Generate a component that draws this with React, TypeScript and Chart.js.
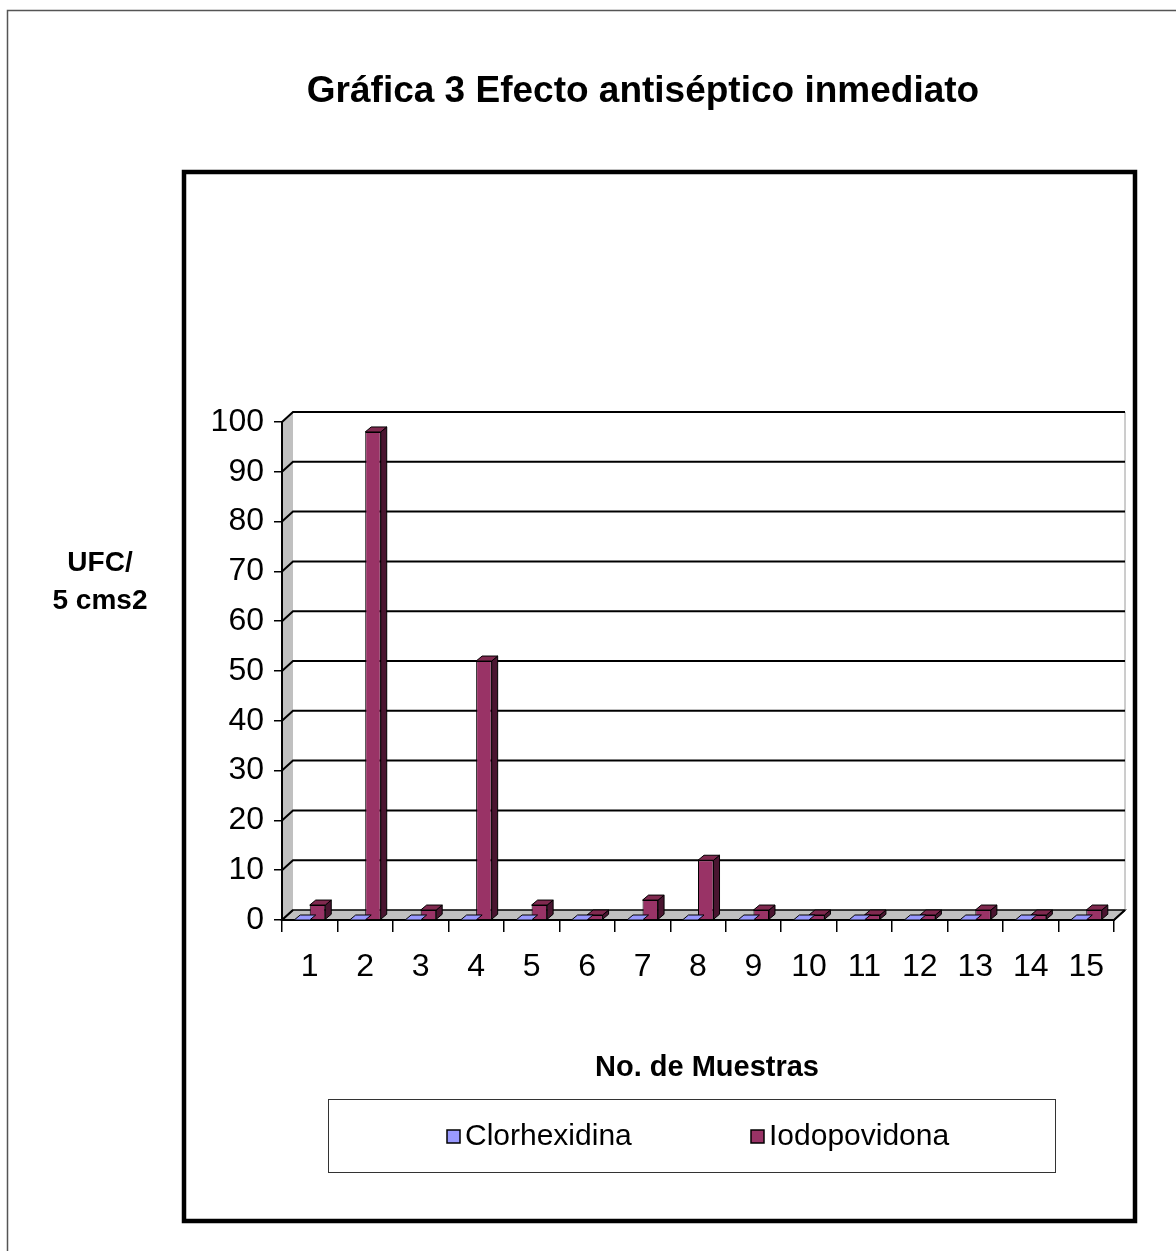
import React, { useEffect, useRef } from "react";
import { Chart, registerables } from "chart.js";

Chart.register(...registerables);

const categories = ["1", "2", "3", "4", "5", "6", "7", "8", "9", "10", "11", "12", "13", "14", "15"];
const clorhexidina = [0, 0, 0, 0, 0, 0, 0, 0, 0, 0, 0, 0, 0, 0, 0];
const iodopovidona = [3, 98, 2, 52, 3, 1, 4, 12, 2, 1, 1, 1, 2, 1, 2];
const seriesNames = ["Clorhexidina", "Iodopovidona"];
const titleText = "Gráfica 3 Efecto antiséptico inmediato";
const yTitleLines = ["UFC/", "5 cms2"];
const xTitleText = "No. de Muestras";

const FONT = '"Liberation Sans", Arial, sans-serif';
const DX = 11;
const DY = -10;
const BDX = 6;
const BDY = -5;

const frontColors = ["#9999ff", "#993366"];
const sideColors = ["#5c5cb0", "#4a1530"];
const topColors = ["#7b7bd6", "#80294f"];

const decorPlugin = {
  id: "decor",
  beforeDraw(chart: any) {
    const ctx = chart.ctx;
    ctx.save();
    ctx.fillStyle = "#ffffff";
    ctx.fillRect(0, 0, chart.width, chart.height);
    ctx.restore();
  },
  beforeDatasetsDraw(chart: any) {
    const ctx = chart.ctx;
    const { left, right, top, bottom } = chart.chartArea;
    const y = chart.scales.y;
    ctx.save();
    ctx.fillStyle = "#c0c0c0";
    ctx.beginPath();
    ctx.moveTo(left, bottom);
    ctx.lineTo(left + DX, bottom + DY);
    ctx.lineTo(left + DX, top + DY);
    ctx.lineTo(left, top);
    ctx.closePath();
    ctx.fill();
    ctx.beginPath();
    ctx.moveTo(left, bottom);
    ctx.lineTo(right, bottom);
    ctx.lineTo(right + DX, bottom + DY);
    ctx.lineTo(left + DX, bottom + DY);
    ctx.closePath();
    ctx.fill();
    ctx.strokeStyle = "#000";
    ctx.lineWidth = 1.5;
    ctx.stroke();
    ctx.strokeStyle = "#9a9a9a";
    ctx.lineWidth = 1;
    ctx.beginPath();
    ctx.moveTo(right + DX, top + DY);
    ctx.lineTo(right + DX, bottom + DY);
    ctx.stroke();
    ctx.strokeStyle = "#000";
    ctx.lineWidth = 2;
    y.ticks.forEach((t: any) => {
      const py = y.getPixelForValue(t.value);
      ctx.beginPath();
      ctx.moveTo(left, py);
      ctx.lineTo(left + DX, py + DY);
      if (t.value !== 0) ctx.lineTo(right + DX, py + DY);
      ctx.stroke();
    });
    ctx.beginPath();
    ctx.moveTo(left, bottom);
    ctx.lineTo(right, bottom);
    ctx.lineTo(right + DX, bottom + DY);
    ctx.stroke();
    ctx.beginPath();
    ctx.moveTo(left, top);
    ctx.lineTo(left, bottom);
    ctx.stroke();
    ctx.restore();
  },
  afterDatasetDraw(chart: any, args: any) {
    const ctx = chart.ctx;
    const i = args.index;
    const meta = args.meta;
    ctx.save();
    ctx.strokeStyle = "#000";
    ctx.lineWidth = 1;
    ctx.lineJoin = "round";
    meta.data.forEach((el: any) => {
      const w = el.width;
      const xl = el.x - w / 2;
      const xr = el.x + w / 2;
      const yt = el.y;
      const yb = el.base;
      if (yb - yt > 0.5) {
        ctx.fillStyle = sideColors[i];
        ctx.beginPath();
        ctx.moveTo(xr, yt);
        ctx.lineTo(xr + BDX, yt + BDY);
        ctx.lineTo(xr + BDX, yb + BDY);
        ctx.lineTo(xr, yb);
        ctx.closePath();
        ctx.fill();
        ctx.stroke();
      }
      ctx.fillStyle = yb - yt > 0.5 ? topColors[i] : frontColors[i];
      ctx.beginPath();
      ctx.moveTo(xl, yt);
      ctx.lineTo(xr, yt);
      ctx.lineTo(xr + BDX, yt + BDY);
      ctx.lineTo(xl + BDX, yt + BDY);
      ctx.closePath();
      ctx.fill();
      ctx.stroke();
    });
    ctx.restore();
  },
  afterDraw(chart: any) {
    const ctx = chart.ctx;
    ctx.save();
    ctx.strokeStyle = "#555";
    ctx.lineWidth = 1.5;
    ctx.beginPath();
    ctx.moveTo(7.5, chart.height);
    ctx.lineTo(7.5, 10.5);
    ctx.lineTo(chart.width, 10.5);
    ctx.stroke();
    ctx.strokeStyle = "#000";
    ctx.lineWidth = 4.5;
    ctx.strokeRect(184, 172, 951, 1049);
    ctx.fillStyle = "#000";
    ctx.textAlign = "center";
    ctx.textBaseline = "middle";
    ctx.font = `bold 37px ${FONT}`;
    ctx.fillText(titleText, 643, 92);
    ctx.font = `bold 28px ${FONT}`;
    ctx.fillText(yTitleLines[0], 100, 563);
    ctx.fillText(yTitleLines[1], 100, 601);
    ctx.font = `bold 29px ${FONT}`;
    ctx.fillText(xTitleText, 707, 1068);
    ctx.strokeStyle = "#333";
    ctx.lineWidth = 1;
    ctx.strokeRect(328.5, 1099.5, 727, 73);
    const items = [
      { x: 447, name: seriesNames[0], color: frontColors[0] },
      { x: 751, name: seriesNames[1], color: frontColors[1] },
    ];
    ctx.textAlign = "left";
    ctx.font = `30px ${FONT}`;
    items.forEach((it) => {
      ctx.fillStyle = it.color;
      ctx.fillRect(it.x, 1130, 13, 13);
      ctx.strokeStyle = "#000";
      ctx.lineWidth = 1.5;
      ctx.strokeRect(it.x, 1130, 13, 13);
      ctx.fillStyle = "#000";
      ctx.fillText(it.name, it.x + 18, 1137);
    });
    ctx.restore();
  },
};

export default function App() {
  const ref = useRef<HTMLCanvasElement | null>(null);
  useEffect(() => {
    if (!ref.current) return;
    const chart = new Chart(ref.current, {
      type: "bar",
      data: {
        labels: categories,
        datasets: [
          {
            label: seriesNames[0],
            data: clorhexidina,
            backgroundColor: frontColors[0],
            borderColor: "#000",
            borderWidth: 1,
            categoryPercentage: 0.56,
            barPercentage: 1,
          },
          {
            label: seriesNames[1],
            data: iodopovidona,
            backgroundColor: frontColors[1],
            borderColor: "#000",
            borderWidth: 1,
            categoryPercentage: 0.56,
            barPercentage: 1,
          },
        ],
      },
      options: {
        responsive: false,
        animation: false,
        devicePixelRatio: 1,
        layout: { padding: { left: 0, right: 62, top: 422, bottom: 251 } },
        plugins: {
          legend: { display: false },
          title: { display: false },
          tooltip: { enabled: false },
        },
        scales: {
          x: {
            offset: true,
            grid: {
              offset: true,
              drawOnChartArea: false,
              drawTicks: true,
              tickLength: 12,
              color: "#000",
              lineWidth: 1.5,
            },
            border: { display: false },
            ticks: {
              color: "#000",
              font: { family: FONT, size: 32 },
              padding: 16,
              maxRotation: 0,
              autoSkip: false,
            },
            afterFit: (s: any) => {
              s.height = 80;
            },
          },
          y: {
            min: 0,
            max: 100,
            grid: {
              drawOnChartArea: false,
              drawTicks: true,
              tickLength: 8,
              color: "#000",
              lineWidth: 1.5,
            },
            border: { display: false },
            ticks: {
              stepSize: 10,
              color: "#000",
              font: { family: FONT, size: 32 },
              padding: 10,
            },
            afterFit: (s: any) => {
              s.width = 282;
            },
          },
        },
      },
      plugins: [decorPlugin],
    });
    return () => chart.destroy();
  }, []);
  return (
    <div style={{ position: "absolute", left: 0, top: 0, width: 1176, height: 1251 }}>
      <canvas ref={ref} width={1176} height={1251} style={{ width: 1176, height: 1251 }} />
    </div>
  );
}
